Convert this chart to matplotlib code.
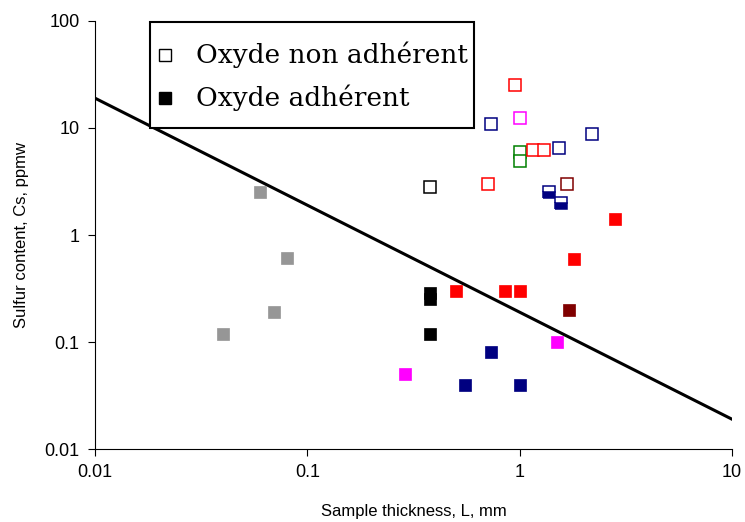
import matplotlib
matplotlib.use("Agg")
import matplotlib.pyplot as plt
from matplotlib.patches import Rectangle
import numpy as np

# Open squares (Oxyde non adhérent): x, y, colour
open_x = [0.95, 0.73, 1.0, 2.2, 1.0, 1.0, 1.16, 1.3, 1.53, 0.38, 0.71, 1.68]
open_y = [25, 11, 12.5, 8.8, 6.0, 4.9, 6.2, 6.2, 6.5, 2.8, 3.0, 3.0]
open_c = ['#FF0000', '#000080', '#FF00FF', '#000080', '#008000', '#008000',
          '#FF0000', '#FF0000', '#000080', '#000000', '#FF0000', '#800000']

# Half-filled squares (overlapping open/filled)
half_x = [1.38, 1.56]
half_y = [2.5, 2.0]
half_c = ['#000080', '#000080']

# Filled squares (Oxyde adhérent)
fill_x = [0.06, 0.08, 0.07, 0.04, 0.38, 0.38, 0.38, 0.5, 0.85, 1.0, 1.8, 2.8,
          1.7, 1.5, 0.29, 0.73, 0.55, 1.0]
fill_y = [2.5, 0.61, 0.19, 0.12, 0.29, 0.25, 0.12, 0.3, 0.3, 0.3, 0.6, 1.4,
          0.2, 0.1, 0.05, 0.08, 0.04, 0.04]
fill_c = ['#969696', '#969696', '#969696', '#969696', '#000000', '#000000', '#000000',
          '#FF0000', '#FF0000', '#FF0000', '#FF0000', '#FF0000',
          '#800000', '#FF00FF', '#FF00FF', '#000080', '#000080', '#000080']

# Limit line Cs = k / L
line_x = [0.01, 10]
line_k = 0.19

legend_labels = ['Oxyde non adhérent', 'Oxyde adhérent']

x_ticks = [0.01, 0.1, 1, 10]
x_ticklabels = ['0.01', '0.1', '1', '10']
y_ticks = [0.01, 0.1, 1, 10, 100]
y_ticklabels = ['0.01', '0.1', '1', '10', '100']

plt.rcParams['font.family'] = ['Liberation Sans', 'DejaVu Sans']

fig = plt.figure(figsize=(7.45, 5.22), dpi=100)
ax = fig.add_axes([0.1275, 0.1398, 0.855, 0.82])
ax.set_xscale('log')
ax.set_yscale('log')
ax.set_xlim(0.01, 10)
ax.set_ylim(0.01, 100)

lx = np.array(line_x)
ax.plot(lx, line_k / lx, color='black', lw=2.2, zorder=2)

ms = 8.5
for x, y, c in zip(open_x, open_y, open_c):
    ax.plot([x], [y], 's', ms=ms, mfc='white', mec=c, mew=1.1, zorder=3)
for x, y, c in zip(half_x, half_y, half_c):
    ax.plot([x], [y], 's', ms=ms, mfc=c, mfcalt='white', fillstyle='bottom',
            mec=c, mew=1.1, zorder=3)
for x, y, c in zip(fill_x, fill_y, fill_c):
    ax.plot([x], [y], 's', ms=ms, mfc=c, mec=c, mew=0.5, zorder=3)

ax.set_xticks(x_ticks)
ax.set_xticklabels(x_ticklabels)
ax.set_yticks(y_ticks)
ax.set_yticklabels(y_ticklabels)
ax.minorticks_off()
ax.tick_params(axis='both', which='major', direction='out', length=5, width=0.8,
               labelsize=13, pad=6)
for s in ['top', 'right']:
    ax.spines[s].set_visible(False)
for s in ['left', 'bottom']:
    ax.spines[s].set_linewidth(0.8)

ax.set_xlabel('Sample thickness, L, mm', fontsize=12, labelpad=16)
ax.set_ylabel('Sulfur content, Cs, ppmw', fontsize=12, labelpad=11)

# Legend box drawn manually (axes-fraction coordinates)
box = Rectangle((0.0863, 0.750), 0.5087, 0.2477, transform=ax.transAxes,
                facecolor='white', edgecolor='black', lw=1.5, zorder=5,
                clip_on=False)
ax.add_patch(box)
leg_styles = [dict(mfc='white', mec='black'), dict(mfc='black', mec='black')]
leg_rows = [0.9206, 0.8201]
for lab, st, yr in zip(legend_labels, leg_styles, leg_rows):
    ax.plot([0.1099], [yr], 's', ms=8.5, mew=1, transform=ax.transAxes,
            clip_on=False, zorder=6, **st)
    ax.text(0.1586, yr, lab, transform=ax.transAxes, ha='left', va='center',
            family='DejaVu Serif', fontsize=19, zorder=6)

fig.savefig('out.png', dpi=100)
